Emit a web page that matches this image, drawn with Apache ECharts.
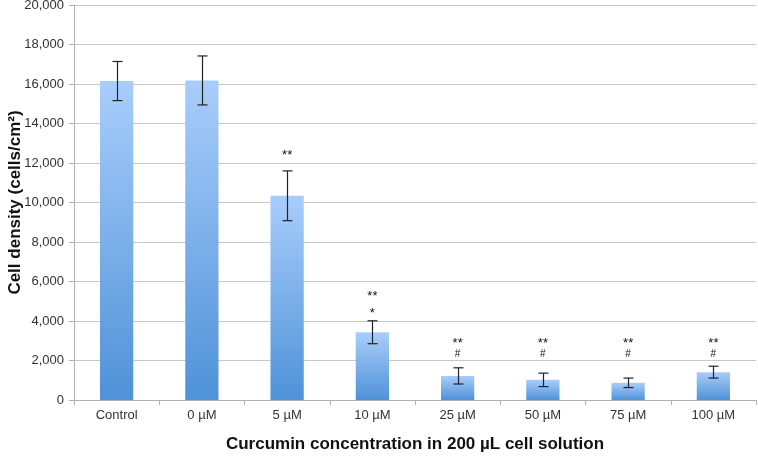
<!DOCTYPE html>
<html><head><meta charset="utf-8">
<script src="https://cdn.jsdelivr.net/npm/echarts@6/dist/echarts.min.js"></script>
<style>html,body{margin:0;padding:0;background:#fff}#c{width:758px;height:456px}</style>
</head><body><div id="c"></div>
<script>
var categories = ['Control', '0 \u00b5M', '5 \u00b5M', '10 \u00b5M', '25 \u00b5M', '50 \u00b5M', '75 \u00b5M', '100 \u00b5M'];
var values = [16150, 16180, 10340, 3430, 1220, 1020, 870, 1410];
var errors = [990, 1240, 1260, 580, 410, 340, 240, 300];
var sigTop = ['', '', '**', '**', '**', '**', '**', '**'];
var sigTopY = [null, null, 12550, 5420, 3000, 3000, 3000, 3000];
var sigBottom = ['', '', '', '*', '#', '#', '#', '#'];
var sigBottomY = [null, null, null, 4520, 2370, 2370, 2370, 2370];
var yTicks = [0, 2000, 4000, 6000, 8000, 10000, 12000, 14000, 16000, 18000, 20000];

var chart = echarts.init(document.getElementById('c'));
var font = '"Liberation Sans", Arial, sans-serif';
var errData = values.map(function (v, i) { return [i, v - errors[i], v + errors[i]]; });
var annData = categories.map(function (c, i) { return [i, sigTopY[i], sigBottomY[i]]; });

chart.setOption({
  animation: false,
  grid: { left: 74, right: 2, top: 5, bottom: 56, containLabel: false, outerBoundsMode: 'none' },
  xAxis: {
    type: 'category', data: categories,
    axisLine: { lineStyle: { color: '#b0b0b0' } },
    axisTick: { show: true, length: 5, lineStyle: { color: '#b0b0b0' } },
    axisLabel: { color: '#333', fontSize: 13, fontFamily: font, margin: 9 },
    name: 'Curcumin concentration in 200 \u00b5L cell solution',
    nameLocation: 'middle', nameGap: 36, nameMoveOverlap: false,
    nameTextStyle: { fontSize: 17, fontWeight: 'bold', color: '#111', fontFamily: font }
  },
  yAxis: {
    type: 'value', min: yTicks[0], max: yTicks[yTicks.length - 1], interval: 2000,
    axisLine: { show: true, lineStyle: { color: '#b0b0b0' } },
    axisTick: { show: true, length: 5, lineStyle: { color: '#b0b0b0' } },
    splitLine: { lineStyle: { color: '#c8c8c8', width: 1 } },
    axisLabel: {
      color: '#333', fontSize: 13, fontFamily: font, margin: 10,
      formatter: function (v) { return v.toLocaleString('en-US'); }
    },
    name: 'Cell density (cells/cm\u00b2)',
    nameLocation: 'middle', nameGap: 50, nameMoveOverlap: false,
    nameTextStyle: { fontSize: 17, fontWeight: 'bold', color: '#111', fontFamily: font }
  },
  series: [
    {
      type: 'bar', data: values, barWidth: '39%',
      itemStyle: {
        color: new echarts.graphic.LinearGradient(0, 0, 0, 1, [
          { offset: 0, color: '#a9cdfb' },
          { offset: 1, color: '#4f92d8' }
        ])
      }
    },
    {
      type: 'custom', data: errData, z: 5,
      renderItem: function (params, api) {
        var x = api.value(0);
        var lo = api.coord([x, api.value(1)]);
        var hi = api.coord([x, api.value(2)]);
        var cx = Math.round(lo[0]) + 0.5;
        var w = 5;
        var st = { stroke: '#222', lineWidth: 1.2 };
        return {
          type: 'group', children: [
            { type: 'line', shape: { x1: cx, y1: hi[1], x2: cx, y2: lo[1] }, style: st },
            { type: 'line', shape: { x1: cx - w, y1: hi[1], x2: cx + w, y2: hi[1] }, style: st },
            { type: 'line', shape: { x1: cx - w, y1: lo[1], x2: cx + w, y2: lo[1] }, style: st }
          ]
        };
      }
    },
    {
      type: 'custom', data: annData, z: 6,
      renderItem: function (params, api) {
        var i = params.dataIndex;
        var children = [];
        if (sigTop[i]) {
          var p = api.coord([i, sigTopY[i]]);
          children.push({ type: 'text', x: p[0], y: p[1] + 3, style: { text: sigTop[i], fill: '#111', font: '13px ' + font, textAlign: 'center', textVerticalAlign: 'middle' } });
        }
        if (sigBottom[i]) {
          var q = api.coord([i, sigBottomY[i]]);
          children.push({ type: 'text', x: q[0], y: q[1] + (sigBottom[i] === '*' ? 3 : 1), style: { text: sigBottom[i], fill: '#111', font: (sigBottom[i] === '#' ? '10px ' : '13px ') + font, textAlign: 'center', textVerticalAlign: 'middle' } });
        }
        return { type: 'group', children: children };
      }
    }
  ]
});
</script></body></html>
